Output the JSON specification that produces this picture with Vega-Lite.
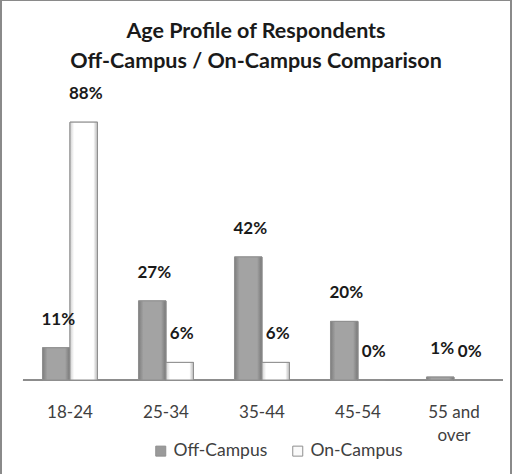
{
  "$schema": "https://vega.github.io/schema/vega-lite/v6.json",
  "width": 510,
  "height": 478,
  "autosize": {"type": "none"},
  "padding": {"left": 1, "top": 0, "right": 4, "bottom": -4},
  "background": "white",
  "config": {"view": {"stroke": "#8a8a8a", "strokeWidth": 2}},
  "title": {
    "text": ["Age Profile of Respondents", "Off-Campus / On-Campus Comparison"],
    "font": "Lato",
    "fontSize": 21.5,
    "fontWeight": "bold",
    "color": "#1a1a1a",
    "lineHeight": 30,
    "offset": -72,
    "anchor": "middle"
  },
  "data": {
    "values": [
      {"age": "18-24", "campus": "Off-Campus", "share": 0.11},
      {"age": "18-24", "campus": "On-Campus", "share": 0.88},
      {"age": "25-34", "campus": "Off-Campus", "share": 0.27},
      {"age": "25-34", "campus": "On-Campus", "share": 0.06},
      {"age": "35-44", "campus": "Off-Campus", "share": 0.42},
      {"age": "35-44", "campus": "On-Campus", "share": 0.06},
      {"age": "45-54", "campus": "Off-Campus", "share": 0.20},
      {"age": "45-54", "campus": "On-Campus", "share": 0.0},
      {"age": "55 and over", "campus": "Off-Campus", "share": 0.01},
      {"age": "55 and over", "campus": "On-Campus", "share": 0.0}
    ]
  },
  "encoding": {
    "x": {
      "field": "age",
      "type": "nominal",
      "sort": null,
      "scale": {
        "domain": ["18-24", "25-34", "35-44", "45-54", "55 and over"],
        "paddingInner": 0.427,
        "paddingOuter": 0.36975,
        "align": 0.5845
      },
      "axis": {
        "title": null,
        "domain": false,
        "ticks": false,
        "offset": -98,
        "labelAngle": 0,
        "labelFont": "Lato",
        "labelFontSize": 17,
        "labelColor": "#404040",
        "labelPadding": 24,
        "labelLineHeight": 23,
        "labelExpr": "datum.value == '55 and over' ? ['55 and', 'over'] : datum.label"
      }
    },
    "xOffset": {
      "field": "campus",
      "type": "nominal",
      "sort": ["Off-Campus", "On-Campus"],
      "scale": {"paddingInner": 0, "paddingOuter": 0}
    },
    "y": {
      "field": "share",
      "type": "quantitative",
      "scale": {"domain": [-0.33447, 1.29693], "nice": false},
      "axis": null
    }
  },
  "layer": [
    {
      "mark": {"type": "rule", "color": "#8c8c8c", "strokeWidth": 1},
      "encoding": {
        "x": {"datum": "18-24", "bandPosition": -0.3545},
        "x2": {"datum": "55 and over", "bandPosition": 1.391},
        "xOffset": null,
        "y": {"datum": 0}
      }
    },
    {
      "mark": {"type": "bar", "stroke": "#8f8f8f", "strokeWidth": 1},
      "encoding": {
        "color": {
          "field": "campus",
          "type": "nominal",
          "sort": ["Off-Campus", "On-Campus"],
          "scale": {"domain": ["Off-Campus", "On-Campus"], "range": ["#9a9a9a", "#fafafa"]},
          "legend": {
            "orient": "none",
            "legendX": 151,
            "legendY": 442,
            "direction": "horizontal",
            "title": null,
            "symbolType": "square",
            "symbolSize": 100,
            "symbolStrokeColor": "#8f8f8f",
            "symbolStrokeWidth": 1,
            "labelFont": "Lato",
            "labelFontSize": 17.5,
            "labelColor": "#404040",
            "labelOffset": 4,
            "columnPadding": 21
          }
        }
      }
    },
    {
      "mark": {"type": "bar", "stroke": "#8f8f8f", "strokeWidth": 1},
      "encoding": {
        "fill": {
          "condition": {
            "test": "datum.campus == 'Off-Campus'",
            "value": {"gradient": "linear", "x1": 0, "y1": 0, "x2": 1, "y2": 0,
              "stops": [
                {"offset": 0, "color": "#7d7d7d"},
                {"offset": 0.18, "color": "#a3a3a3"},
                {"offset": 0.82, "color": "#a3a3a3"},
                {"offset": 1, "color": "#767676"}
              ]}
          },
          "value": {"gradient": "linear", "x1": 0, "y1": 0, "x2": 1, "y2": 0,
            "stops": [
              {"offset": 0, "color": "#d0d0d0"},
              {"offset": 0.15, "color": "#ffffff"},
              {"offset": 0.85, "color": "#ffffff"},
              {"offset": 1, "color": "#b5b5b5"}
            ]}
        }
      }
    },
    {
      "mark": {
        "type": "text",
        "font": "Lato",
        "fontSize": 17,
        "fontWeight": "bold",
        "color": "#1a1a1a",
        "baseline": "middle",
        "dx": 2,
        "dy": -28
      },
      "encoding": {
        "text": {"field": "share", "type": "quantitative", "format": ".0%"}
      }
    }
  ]
}
